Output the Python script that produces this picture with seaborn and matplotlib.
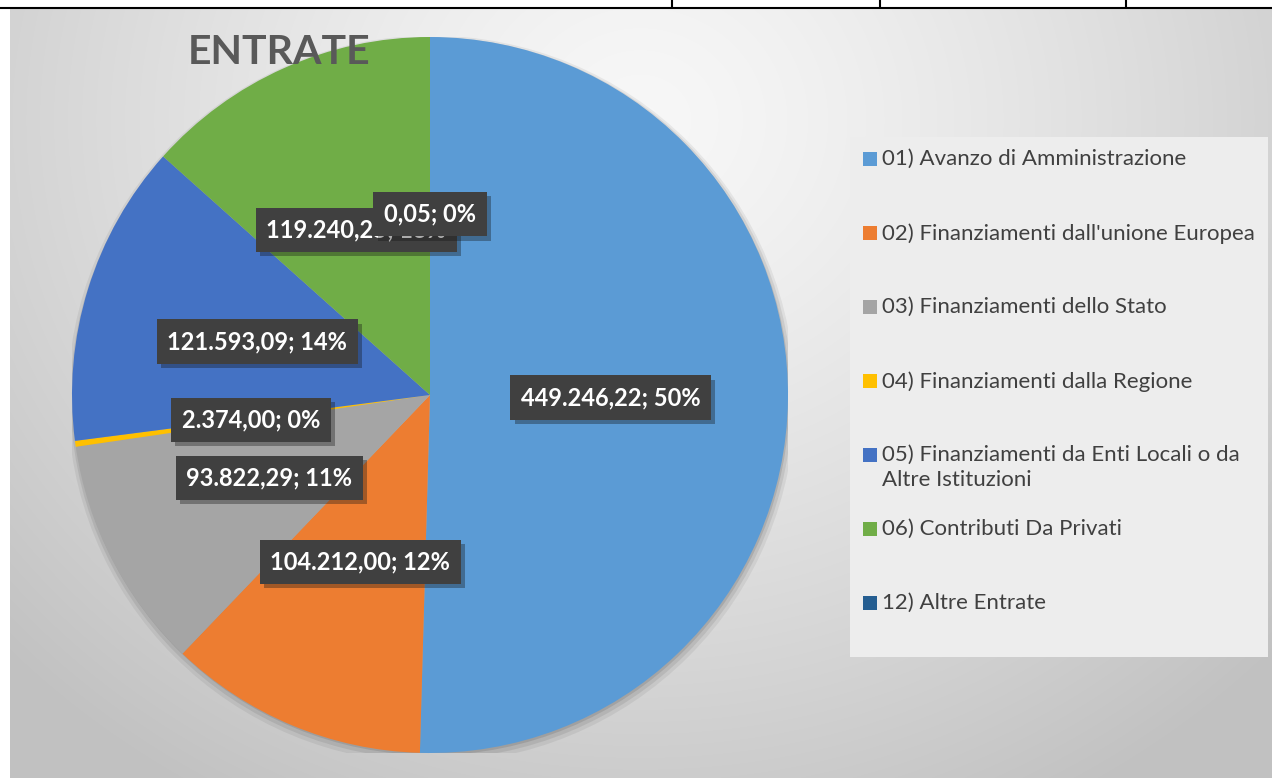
import numpy as np
import matplotlib
matplotlib.use("Agg")
import matplotlib.pyplot as plt
import matplotlib.patheffects as pe
from matplotlib.patches import Rectangle, Circle
from matplotlib.lines import Line2D
import seaborn as sns

# Data #
categories = ["01) Avanzo di Amministrazione",
              "02) Finanziamenti dall'unione Europea",
              "03) Finanziamenti dello Stato",
              "04) Finanziamenti dalla Regione",
              "05) Finanziamenti da Enti Locali o da\nAltre Istituzioni",
              "06) Contributi Da Privati",
              "12) Altre Entrate"]
values = [449246.22, 104212.00, 93822.29, 2374.00, 121593.09, 119240.25, 0.05]
value_labels = ["449.246,22", "104.212,00", "93.822,29", "2.374,00",
                "121.593,09", "119.240,25", "0,05"]
pct_labels = ["50%", "12%", "11%", "0%", "14%", "13%", "0%"]
colors = ["#5B9BD5", "#ED7D31", "#A5A5A5", "#FFC000", "#4472C4", "#70AD47", "#255E91"]

sns.set_theme(style="white")
plt.rcParams['font.family'] = ['Lato', 'DejaVu Sans']
palette = sns.color_palette(colors)

W, H = 1272, 778
fig = plt.figure(figsize=(W / 100, H / 100), dpi=100)
fig.patch.set_facecolor("white")

def px(x, y):
    # pixel from top-left -> figure fraction #
    return x / W, 1 - y / H

def box(x0, y0, x1, y1):
    return [x0 / W, 1 - y1 / H, (x1 - x0) / W, (y1 - y0) / H]

## Background gradient ##
bg = fig.add_axes(box(10, 9, W, H))
yy, xx = np.mgrid[9:H, 10:W]
d = np.sqrt(((xx - 640) / 1.0) ** 2 + ((yy - 120) / 0.9) ** 2)
shade = np.clip(0.97 - 0.19 * (d / 800) ** 1.3, 0.76, 0.975)
bg.imshow(np.dstack([shade] * 3), aspect="auto", extent=[0, 1, 0, 1])
bg.set_axis_off()

## Top table lines ##
fig.add_artist(Line2D([0, 1], [1 - 7.5 / H] * 2, color="black", lw=1.5))
for xv in [672, 880, 1126]:
    fig.add_artist(Line2D([xv / W] * 2, [1, 1 - 7.5 / H], color="black", lw=1.5))

## Pie ##
ax = fig.add_axes(box(72, 37, 788, 753))
# soft shadow under the pie #
for k, a in enumerate([0.06, 0.08, 0.10]):
    ax.add_patch(Circle((0.004, -0.012 + 0.003 * k), 1.0 + 0.008 * (2 - k),
                        facecolor="black", alpha=a, edgecolor="none", zorder=0))
wedges, texts, autotexts = ax.pie(values, colors=palette, startangle=90,
                                  counterclock=False, radius=1,
                                  autopct="%1.0f%%", pctdistance=0.505,
                                  wedgeprops={"linewidth": 0})
ax.set_xlim(-1, 1)
ax.set_ylim(-1, 1)
ax.set_axis_off()

for t, v, p in zip(autotexts, value_labels, pct_labels):
    t.set_text(f"{v}; {p}")
    t.set_color("white")
    t.set_fontsize(17)
    t.set_fontweight("bold")
    t.set_bbox(dict(boxstyle="square,pad=0.45", facecolor="#404040", edgecolor="none"))
    t.get_bbox_patch().set_path_effects(
        [pe.SimplePatchShadow(offset=(3, -3), alpha=0.35), pe.Normal()])

## Title ##
fig.text(*px(279, 52), "ENTRATE", fontsize=29.5, fontweight="bold",
         color="#595959", ha="center", va="center")

## Legend ##
lg = fig.add_axes(box(850, 137, 1268, 657))
lg.set_xlim(850, 1268)
lg.set_ylim(657, 137)
lg.set_axis_off()
lg.add_patch(Rectangle((850, 137), 418, 520, facecolor="#ededed", edgecolor="none"))
rows = [159, 233, 307, 381, 455, 529, 603]
for c, lab, yr in zip(palette, categories, rows):
    lg.add_patch(Rectangle((863, yr - 7), 14, 14, facecolor=c, edgecolor="none"))
    lg.text(882, yr - 10, lab, fontsize=16, color="#404040", va="top",
            ha="left", linespacing=1.3)

fig.savefig("out.png", dpi=100)
